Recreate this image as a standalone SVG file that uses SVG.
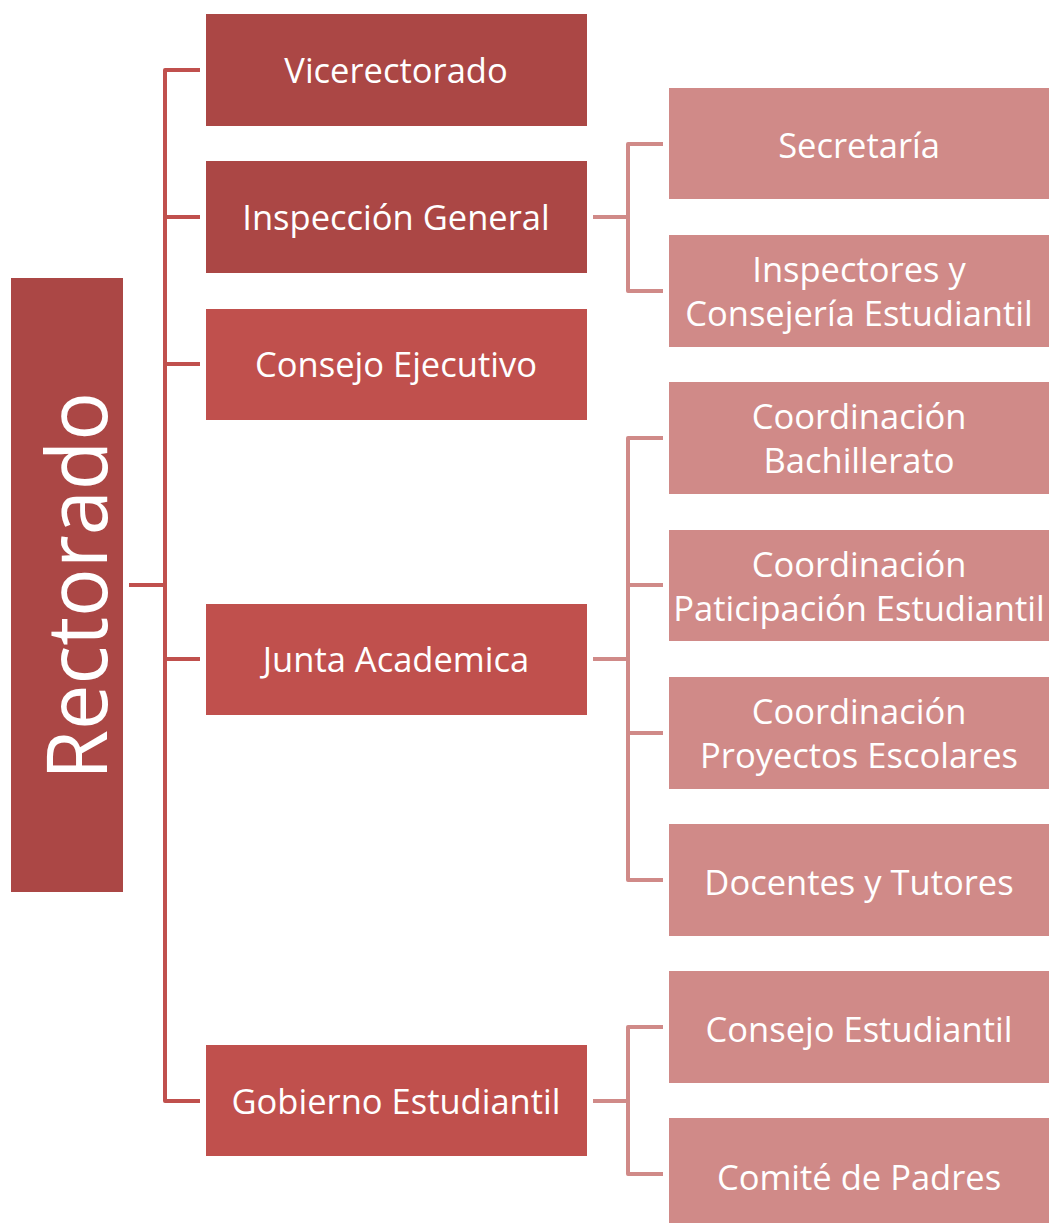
<svg xmlns="http://www.w3.org/2000/svg" width="1049" height="1223" viewBox="0 0 1049 1223">
<style>
.dark{fill:#AB4745}
.mid{fill:#C0504D}
.light{fill:#D08A88}
text{font-family:"Open Sans","Noto Sans","DejaVu Sans",sans-serif;fill:#FFFFFF;text-anchor:middle;font-size:34.5px}
.c1{fill:none;stroke:#C0504D;stroke-width:4;stroke-linejoin:round}
.c2{fill:none;stroke:#D08A88;stroke-width:4;stroke-linejoin:round}
</style>
<rect width="1049" height="1223" fill="#FFFFFF"/>
<g id="connectors">
<path class="c1" d="M129 585H165M200 70H165V1101H200M165 217H200M165 364H200M165 659H200"/>
<path class="c2" d="M593 217H628M663 144H628V291H663"/>
<path class="c2" d="M593 659H628M663 438H628V880H663M628 585H663M628 733H663"/>
<path class="c2" d="M593 1101H628M663 1027H628V1174H663"/>
</g>
<g id="rectorado">
<rect class="dark" x="11" y="278" width="112" height="614"/>
<text transform="translate(107,586) rotate(-90)" style="font-size:84px" textLength="388" lengthAdjust="spacingAndGlyphs">Rectorado</text>
</g>
<g id="vicerectorado">
<rect class="dark" x="206" y="14" width="381" height="112"/>
<text x="396" y="83">Vicerectorado</text>
</g>
<g id="inspeccion">
<rect class="dark" x="206" y="161" width="381" height="112"/>
<text x="396" y="230">Inspección General</text>
</g>
<g id="consejo-ejecutivo">
<rect class="mid" x="206" y="309" width="381" height="111"/>
<text x="396" y="377">Consejo Ejecutivo</text>
</g>
<g id="junta">
<rect class="mid" x="206" y="604" width="381" height="111"/>
<text x="396" y="672">Junta Academica</text>
</g>
<g id="gobierno">
<rect class="mid" x="206" y="1045" width="381" height="111"/>
<text x="396" y="1114">Gobierno Estudiantil</text>
</g>
<g id="secretaria">
<rect class="light" x="669" y="88" width="380" height="111"/>
<text x="859" y="158">Secretaría</text>
</g>
<g id="inspectores">
<rect class="light" x="669" y="235" width="380" height="112"/>
<text x="859" y="282">Inspectores y</text>
<text x="859" y="326">Consejería Estudiantil</text>
</g>
<g id="coord-bachillerato">
<rect class="light" x="669" y="382" width="380" height="112"/>
<text x="859" y="429">Coordinación</text>
<text x="859" y="473">Bachillerato</text>
</g>
<g id="coord-participacion">
<rect class="light" x="669" y="530" width="380" height="111"/>
<text x="859" y="577">Coordinación</text>
<text x="859" y="621">Paticipación Estudiantil</text>
</g>
<g id="coord-proyectos">
<rect class="light" x="669" y="677" width="380" height="112"/>
<text x="859" y="724">Coordinación</text>
<text x="859" y="768">Proyectos Escolares</text>
</g>
<g id="docentes">
<rect class="light" x="669" y="824" width="380" height="112"/>
<text x="859" y="895">Docentes y Tutores</text>
</g>
<g id="consejo-estudiantil">
<rect class="light" x="669" y="971" width="380" height="112"/>
<text x="859" y="1042">Consejo Estudiantil</text>
</g>
<g id="comite">
<rect class="light" x="669" y="1118" width="380" height="112"/>
<text x="859" y="1190">Comité de Padres</text>
</g>
</svg>
